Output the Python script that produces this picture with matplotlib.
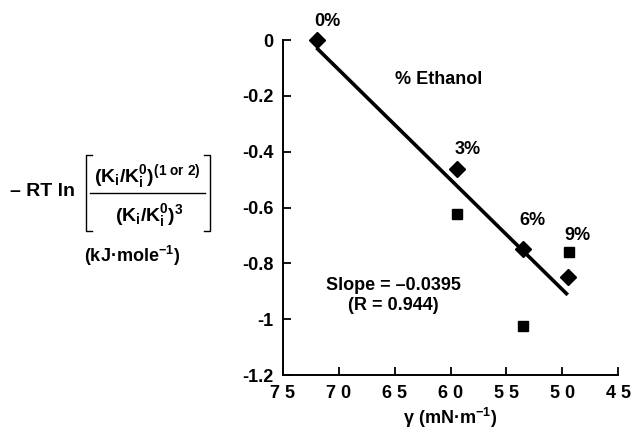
import matplotlib
matplotlib.use('Agg')
import matplotlib.pyplot as plt
from matplotlib.lines import Line2D

plt.rcParams['font.family'] = ['Liberation Sans', 'DejaVu Sans']
plt.rcParams['font.weight'] = 'bold'
plt.rcParams['axes.labelweight'] = 'bold'
plt.rcParams['mathtext.fontset'] = 'custom'
plt.rcParams['mathtext.rm'] = 'Liberation Sans:bold'
plt.rcParams['mathtext.it'] = 'Liberation Sans:bold'
plt.rcParams['mathtext.bf'] = 'Liberation Sans:bold'
plt.rcParams['mathtext.default'] = 'bf'

# surface tension of ethanol/water mixtures (mN/m)
gamma = [71.95, 59.45, 53.5, 49.45]
ethanol = ['0%', '3%', '6%', '9%']
diamond_y = [0.0, -0.463, -0.75, -0.848]
# squares only for 3, 6, 9 %
square_x = [59.45, 53.5, 49.4]
square_y = [-0.622, -1.023, -0.761]
# fitted line ends
fit_x = [72.0, 49.5]
fit_y = [-0.028, -0.913]

xticks = [75, 70, 65, 60, 55, 50, 45]
xticklabels = ['7 5', '7 0', '6 5', '6 0', '5 5', '5 0', '4 5']
yticks = [0, -0.2, -0.4, -0.6, -0.8, -1, -1.2]
yticklabels = ['0', '-0.2', '-0.4', '-0.6', '-0.8', '-1', '-1.2']

fig = plt.figure(figsize=(6.31, 4.32), dpi=100)
ax = fig.add_axes([283/631, 57/432, 335/631, 335/432])

ax.plot(fit_x, fit_y, color='black', lw=2.6, solid_capstyle='butt')
ax.plot(gamma, diamond_y, 'D', color='black', ms=8, clip_on=False)
ax.plot(square_x, square_y, 's', color='black', ms=7, clip_on=False)

label_pos = [(71.0, 0.065), (58.5, -0.394), (52.7, -0.645), (48.6, -0.70)]
for lab, (lx, ly) in zip(ethanol, label_pos):
    ax.text(lx, ly, lab, fontsize=13, ha='center', va='center')

ax.text(61.1, -0.14, '% Ethanol', fontsize=13, ha='center', va='center')
ax.text(65.15, -0.878, 'Slope = \u20130.0395', fontsize=13, ha='center', va='center')
ax.text(65.15, -0.95, '(R = 0.944)', fontsize=13, ha='center', va='center')

ax.set_xlim(75, 45)
ax.set_ylim(-1.2, 0)
ax.set_xticks(xticks)
ax.set_xticklabels(xticklabels, fontsize=13)
ax.set_yticks(yticks)
ax.set_yticklabels(yticklabels, fontsize=13)
ax.tick_params(direction='in', length=6, width=1.3, pad=7)
for s in ['top', 'right']:
    ax.spines[s].set_visible(False)
for s in ['left', 'bottom']:
    ax.spines[s].set_linewidth(1.4)

ax.set_xlabel(r'γ (mN·m$^{-1}$)', fontsize=13, labelpad=3)

# y-axis label as a bracketed fraction
fig.text(42/631, 1 - 192/432, '\u2013 RT ln', fontsize=14, ha='center', va='center')
fig.text(147/631, 1 - 177/432, r'(K$_i$/K$_i^0$)$^{(1\ or\ 2)}$', fontsize=14,
         ha='center', va='center')
fig.text(149/631, 1 - 216/432, r'(K$_i$/K$_i^0$)$^3$', fontsize=14,
         ha='center', va='center')
fig.text(132/631, 1 - 256/432, r'(kJ·mole$^{-1}$)', fontsize=13, ha='center', va='center')

W, H = 631.0, 432.0
def fline(xs, ys, lw=1.0):
    fig.add_artist(Line2D([x / W for x in xs], [1 - y / H for y in ys],
                          color='black', lw=lw, transform=fig.transFigure))

fline([90, 205], [193, 193], lw=1.0)
fline([92, 86, 86, 92], [155, 155, 231, 231], lw=1.0)
fline([204, 210, 210, 204], [155, 155, 231, 231], lw=1.0)

fig.savefig('out.png', dpi=100)
